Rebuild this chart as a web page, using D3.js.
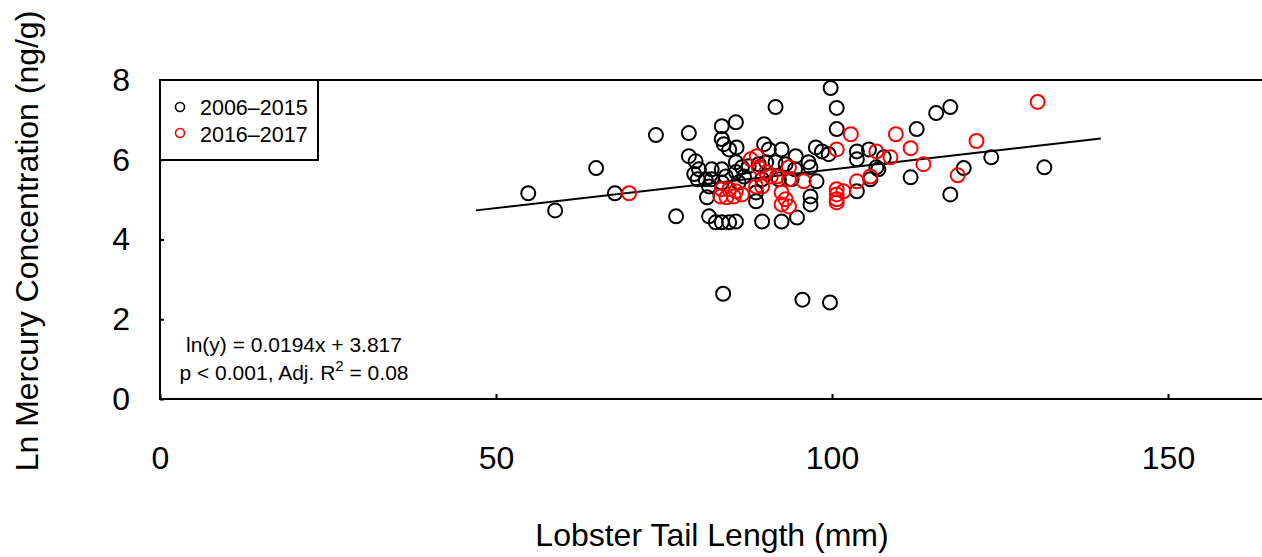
<!DOCTYPE html>
<html>
<head>
<meta charset="utf-8">
<script src="https://cdn.jsdelivr.net/npm/d3@7"></script>
<style>
  body { margin: 0; background: #fff; }
  text { font-family: "Liberation Sans", Arial, sans-serif; fill: #000; }
</style>
</head>
<body>
<div class="chart"></div>
<script>
// ---------------------------------- DATA

// 2006-2015 samples: tail length (mm) and ln mercury (ng/g)
var lengthA = [54.8, 58.8, 64.9, 67.7, 73.8, 76.8, 78.7, 78.7, 79.7, 79.5, 80.2, 80.0, 81.2, 82.1, 82.1,
  81.7, 81.4, 81.7, 82.7, 83.6, 84.7, 85.7, 83.6, 85.7, 83.6, 83.9, 84.7, 85.8, 83.6, 85.7,
  86.6, 87.6, 89.1, 90.2, 91.6, 93.1, 84.2, 85.7, 86.9, 83.6, 86.1, 89.6, 92.1, 94.0, 88.7,
  88.7, 89.6, 92.5, 94.8, 89.9, 90.6, 92.5, 94.6, 91.6, 97.6, 98.5, 99.5, 103.7, 105.5, 103.7,
  96.5, 96.8, 94.5, 106.6, 97.7, 105.7, 103.7, 96.8, 96.8, 99.8, 100.7, 100.7, 112.6, 115.5, 117.6,
  107.7, 106.9, 111.7, 119.6, 117.6, 123.7, 131.6, 83.8, 95.6, 99.7];
var lnHgA = [5.16, 4.73, 5.79, 5.16, 6.62, 4.58, 6.67, 6.09, 5.96, 5.64, 5.76, 5.51, 5.51, 5.76, 5.51,
  5.33, 5.06, 4.58, 4.43, 4.43, 4.43, 4.45, 6.84, 6.94, 6.52, 6.39, 6.26, 6.31, 5.76, 5.94,
  5.81, 5.84, 5.89, 5.94, 5.94, 5.89, 5.58, 5.69, 5.58, 5.43, 5.43, 5.51, 5.51, 5.51, 5.18,
  4.96, 4.45, 4.45, 4.55, 6.39, 6.26, 6.26, 6.09, 7.32, 6.31, 6.21, 6.14, 6.21, 6.26, 6.01,
  5.94, 5.81, 5.76, 5.81, 5.46, 5.51, 5.21, 5.08, 4.88, 7.80, 7.30, 6.77, 6.77, 7.17, 7.32,
  6.06, 5.76, 5.56, 5.79, 5.13, 6.06, 5.81, 2.64, 2.49, 2.42];

// 2016-2017 samples
var lengthB = [69.8, 87.9, 88.8, 89.1, 90.2, 90.9, 91.8, 93.6, 93.6, 88.7, 89.6, 83.6, 84.7, 85.7,
  83.4, 84.3, 85.4, 86.6, 92.5, 93.1, 92.5, 93.6, 95.8, 102.8, 109.5, 100.7, 106.6, 108.7,
  105.7, 103.7, 100.7, 100.7, 100.7, 100.7, 101.7, 130.6, 111.7, 113.6, 121.5, 118.7];
var lnHgB = [5.16, 6.01, 6.09, 5.81, 5.69, 5.58, 5.58, 5.81, 5.51, 5.33, 5.33, 5.26, 5.26, 5.21,
  5.08, 5.06, 5.08, 5.13, 5.18, 5.01, 4.88, 4.83, 5.46, 6.64, 6.64, 6.26, 6.21, 6.06,
  5.58, 5.46, 5.26, 5.13, 5.01, 4.93, 5.21, 7.45, 6.29, 5.89, 6.47, 5.61];

var seriesNames = ["2006\u20132015", "2016\u20132017"];
var seriesColors = ["#000000", "#ff0000"];

var xTicks = [0, 50, 100, 150];
var yTicks = [0, 2, 4, 6, 8];

// fitted line ln(y) = slope*x + intercept, drawn over the fitted length range
var fitSlope = 0.0194;
var fitIntercept = 3.817;
var fitRange = [47, 140];

// ---------------------------------- SVG

var width = 1262, height = 557;

var svg = d3.select(".chart").append("svg")
  .attr("width", width)
  .attr("height", height);

var x = d3.scaleLinear().domain([0, 150]).range([160, 1168]);
var y = d3.scaleLinear().domain([0, 8]).range([399, 80]);

// plot frame (right side runs off the picture)
svg.append("rect")
  .attr("x", x(0)).attr("y", y(8))
  .attr("width", 1200).attr("height", y(0) - y(8))
  .attr("fill", "none").attr("stroke", "#000").attr("stroke-width", 2);

// ---------------------------------- AXES

var yAxis = d3.axisLeft(y).tickValues(yTicks).tickSizeInner(-4).tickSizeOuter(0).tickPadding(30);
var xAxis = d3.axisBottom(x).tickValues(xTicks).tickSizeInner(-5).tickSizeOuter(0).tickPadding(47);

var gy = svg.append("g").attr("transform", "translate(" + x(0) + ",0)").call(yAxis);
var gx = svg.append("g").attr("transform", "translate(0," + y(0) + ")").call(xAxis);

[gx, gy].forEach(function (g) {
  g.select(".domain").remove();
  g.selectAll("line").attr("stroke", "#000").attr("stroke-width", 2);
  g.selectAll("text").attr("font-size", 32).attr("font-family", "Liberation Sans, Arial, sans-serif").attr("fill", "#000");
});

// axis titles
svg.append("text")
  .attr("x", 712).attr("y", 546)
  .attr("text-anchor", "middle")
  .attr("font-size", 32)
  .text("Lobster Tail Length (mm)");

svg.append("text")
  .attr("transform", "translate(38,241) rotate(-90)")
  .attr("text-anchor", "middle")
  .attr("font-size", 32)
  .text("Ln Mercury Concentration (ng/g)");

// ---------------------------------- FIT LINE

var line = d3.line()
  .x(function (d) { return x(d); })
  .y(function (d) { return y(fitSlope * d + fitIntercept); });

svg.append("path")
  .attr("d", line(fitRange))
  .attr("fill", "none")
  .attr("stroke", "#000")
  .attr("stroke-width", 1.8);

// ---------------------------------- POINTS

var sets = [
  { xs: lengthA, ys: lnHgA, color: seriesColors[0] },
  { xs: lengthB, ys: lnHgB, color: seriesColors[1] }
];

sets.forEach(function (s, k) {
  svg.append("g").selectAll("circle")
    .data(s.xs)
    .enter().append("circle")
      .attr("cx", function (d) { return x(d); })
      .attr("cy", function (d, i) { return y(s.ys[i]); })
      .attr("r", 7)
      .attr("fill", "none")
      .attr("stroke", s.color)
      .attr("stroke-width", 2);
});

// ---------------------------------- LEGEND

var legend = svg.append("g");
legend.append("rect")
  .attr("x", 160).attr("y", 80).attr("width", 158).attr("height", 80)
  .attr("fill", "#fff").attr("stroke", "#000").attr("stroke-width", 2);

seriesNames.forEach(function (name, i) {
  legend.append("circle")
    .attr("cx", 180).attr("cy", 107 + i * 26)
    .attr("r", 4.5)
    .attr("fill", "none")
    .attr("stroke", seriesColors[i])
    .attr("stroke-width", 1.6);
  legend.append("text")
    .attr("x", 200).attr("y", 115 + i * 27)
    .attr("font-size", 21.5)
    .text(name);
});

// ---------------------------------- ANNOTATION

svg.append("text")
  .attr("x", 294).attr("y", 352)
  .attr("text-anchor", "middle")
  .attr("font-size", 21)
  .text("ln(y) = " + fitSlope + "x + " + fitIntercept);

var note = svg.append("text")
  .attr("x", 294).attr("y", 380)
  .attr("text-anchor", "middle")
  .attr("font-size", 21);
note.append("tspan").text("p < 0.001, Adj. R");
note.append("tspan").attr("font-size", 15).attr("dy", -9).text("2");
note.append("tspan").attr("dy", 9).text(" = 0.08");
</script>
</body>
</html>
